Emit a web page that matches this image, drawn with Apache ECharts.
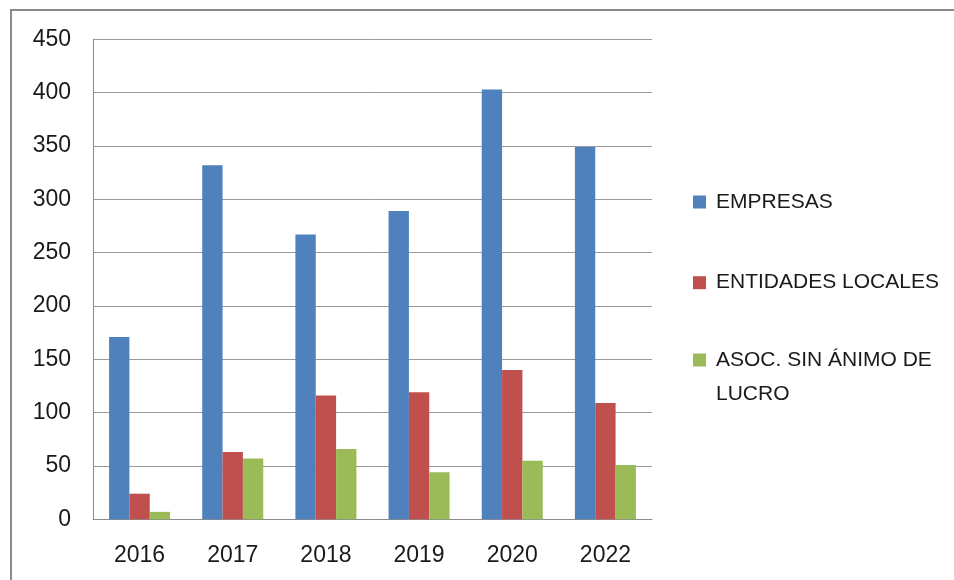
<!DOCTYPE html>
<html>
<head>
<meta charset="utf-8">
<script src="https://cdn.jsdelivr.net/npm/echarts@6/dist/echarts.min.js"></script>
<style>
html,body{margin:0;padding:0;background:#fff;}
#c{width:954px;height:580px;}
</style>
</head>
<body>
<div id="c"></div>
<script>
const categories = ['2016', '2017', '2018', '2019', '2020', '2022'];
const empresas = [171, 332, 267, 289, 403, 349];
const entidadesLocales = [24, 63, 116, 119, 140, 109];
const asocSinAnimo = [7, 57, 66, 44, 55, 51];
const seriesNames = ['EMPRESAS', 'ENTIDADES LOCALES', 'ASOC. SIN ÁNIMO DE LUCRO'];
const yTicks = { min: 0, max: 450, interval: 50 };

const FONT = 'Liberation Sans';
const TXT = '#1a1a1a';
const chart = echarts.init(document.getElementById('c'), null, { renderer: 'canvas' });

function legendAt(name, top, extra) {
  return Object.assign({
    data: [name],
    orient: 'vertical',
    left: 693,
    top: top,
    padding: 0,
    icon: 'rect',
    itemWidth: 13,
    itemHeight: 13,
    selectedMode: false,
    textStyle: { fontFamily: FONT, fontSize: 21, color: TXT, lineHeight: 24, padding: [0, 0, 0, 5] }
  }, extra || {});
}

chart.setOption({
  animation: false,
  backgroundColor: '#ffffff',
  graphic: [{
    type: 'rect',
    shape: { x: 11, y: 10, width: 1000, height: 1000 },
    style: { fill: 'none', stroke: '#8a8a8a', lineWidth: 2 },
    silent: true
  }],
  grid: { left: 93, right: 302, top: 39.3, bottom: 60.7, containLabel: false },
  legend: [
    legendAt(seriesNames[0], 190),
    legendAt(seriesNames[1], 270.7),
    legendAt(seriesNames[2], 309, {
      formatter: function () { return '\u00a0\nASOC. SIN ÁNIMO DE\nLUCRO'; },
      textStyle: { fontFamily: FONT, fontSize: 21, color: TXT, lineHeight: 34, padding: [0, 0, 0, 5] }
    })
  ],
  xAxis: {
    type: 'category',
    data: categories,
    axisLine: { show: true, lineStyle: { color: '#8c8c8c', width: 1 } },
    axisTick: { show: false },
    axisLabel: { fontFamily: FONT, fontSize: 23, color: TXT, margin: 25 }
  },
  yAxis: {
    type: 'value',
    min: yTicks.min,
    max: yTicks.max,
    interval: yTicks.interval,
    axisLine: { show: true, lineStyle: { color: '#8c8c8c', width: 1 } },
    axisTick: { show: false },
    axisLabel: { fontFamily: FONT, fontSize: 23, color: TXT, margin: 22 },
    splitLine: { show: true, lineStyle: { color: '#9a9a9a', width: 1 } }
  },
  series: [
    { name: seriesNames[0], type: 'bar', data: empresas, barGap: '0%', barCategoryGap: '34.5%',
      itemStyle: { color: '#4F81BD' } },
    { name: seriesNames[1], type: 'bar', data: entidadesLocales, barGap: '0%', barCategoryGap: '34.5%',
      itemStyle: { color: '#C0504D' } },
    { name: seriesNames[2], type: 'bar', data: asocSinAnimo, barGap: '0%', barCategoryGap: '34.5%',
      itemStyle: { color: '#9BBB59' } }
  ]
});
</script>
</body>
</html>
